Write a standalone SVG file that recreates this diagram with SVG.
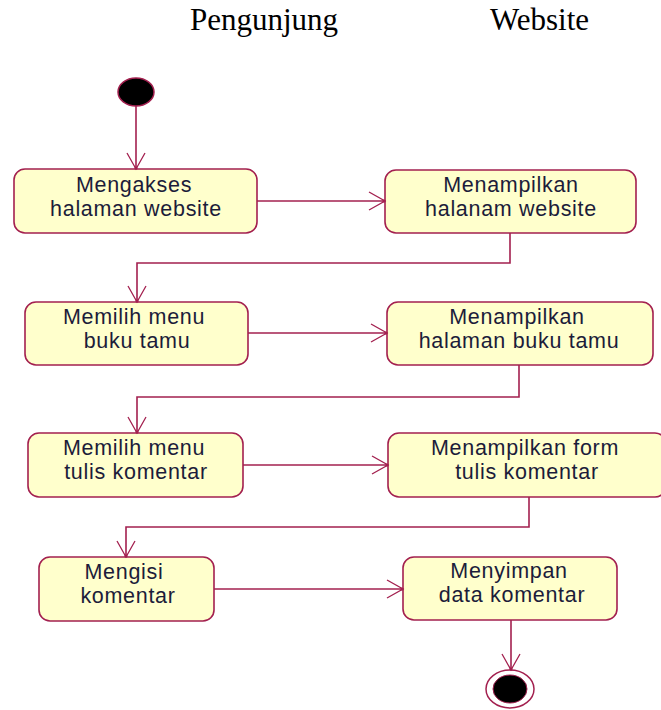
<svg xmlns="http://www.w3.org/2000/svg" width="661" height="710" viewBox="0 0 661 710">
<defs>
<marker id="arr" markerUnits="userSpaceOnUse" markerWidth="24" markerHeight="24" viewBox="-20 -12 24 24" refX="0" refY="0" orient="auto">
<path d="M-16,-9 L0,0 L-16,9" fill="none" stroke="#a3204f" stroke-width="1.3"/>
<circle cx="-1" cy="0" r="1.6" fill="#a3204f"/>
</marker>
</defs>
<style>
.box{fill:#ffffcc;stroke:#a3204f;stroke-width:1.6}
.t{font-family:"Liberation Sans",Arial,sans-serif;font-size:21.5px;letter-spacing:0.7px;fill:#1c1c3a;text-anchor:middle}
.h{font-family:"Liberation Serif","Times New Roman",serif;font-size:31px;fill:#000}
.c{fill:none;stroke:#a3204f;stroke-width:1.6}
</style>
<rect width="661" height="710" fill="#fff"/>
<g id="headers">
<text class="h" x="190" y="30">Pengunjung</text>
<text class="h" x="490" y="30">Website</text>
</g>
<g id="start"><ellipse cx="136" cy="92" rx="18" ry="14" fill="#000" stroke="#a3204f" stroke-width="1.5"/></g>
<g id="n1"><rect class="box" x="14" y="169" width="243" height="64" rx="11"/><text class="t" x="134" y="192">Mengakses</text><text class="t" x="136" y="216">halaman website</text></g>
<g id="n2"><rect class="box" x="385" y="170" width="251" height="63" rx="11"/><text class="t" x="511" y="192">Menampilkan</text><text class="t" x="511" y="216">halanam website</text></g>
<g id="n3"><rect class="box" x="25" y="302" width="223" height="63" rx="11"/><text class="t" x="134" y="324">Memilih menu</text><text class="t" x="137" y="348">buku tamu</text></g>
<g id="n4"><rect class="box" x="387" y="302" width="266" height="63" rx="11"/><text class="t" x="517" y="324">Menampilkan</text><text class="t" x="519" y="348">halaman buku tamu</text></g>
<g id="n5"><rect class="box" x="28" y="433" width="215" height="64" rx="11"/><text class="t" x="134" y="455">Memilih menu</text><text class="t" x="136" y="479">tulis komentar</text></g>
<g id="n6"><rect class="box" x="388" y="433" width="278" height="64" rx="11"/><text class="t" x="525" y="455">Menampilkan form</text><text class="t" x="527" y="479">tulis komentar</text></g>
<g id="n7"><rect class="box" x="39" y="557" width="175" height="64" rx="11"/><text class="t" x="124" y="579">Mengisi</text><text class="t" x="128" y="603">komentar</text></g>
<g id="n8"><rect class="box" x="403" y="557" width="214" height="63" rx="11"/><text class="t" x="509" y="578">Menyimpan</text><text class="t" x="512" y="602">data komentar</text></g>
<g id="end"><ellipse cx="510" cy="689" rx="24" ry="19" fill="#fff" stroke="#a3204f" stroke-width="1.5"/><ellipse cx="510" cy="689" rx="17" ry="14" fill="#000" stroke="#a3204f" stroke-width="1"/></g>
<g id="connectors">
<path class="c" d="M136,106 L136,169" marker-end="url(#arr)"/>
<path class="c" d="M257,201 L385,201" marker-end="url(#arr)"/>
<path class="c" d="M510,233 L510,263 L137,263 L137,302" marker-end="url(#arr)"/>
<path class="c" d="M248,333 L387,333" marker-end="url(#arr)"/>
<path class="c" d="M519,365 L519,397 L137,397 L137,433" marker-end="url(#arr)"/>
<path class="c" d="M243,465 L388,465" marker-end="url(#arr)"/>
<path class="c" d="M529,497 L529,527 L126,527 L126,557" marker-end="url(#arr)"/>
<path class="c" d="M214,589 L403,589" marker-end="url(#arr)"/>
<path class="c" d="M511,620 L511,670" marker-end="url(#arr)"/>
</g>
</svg>
